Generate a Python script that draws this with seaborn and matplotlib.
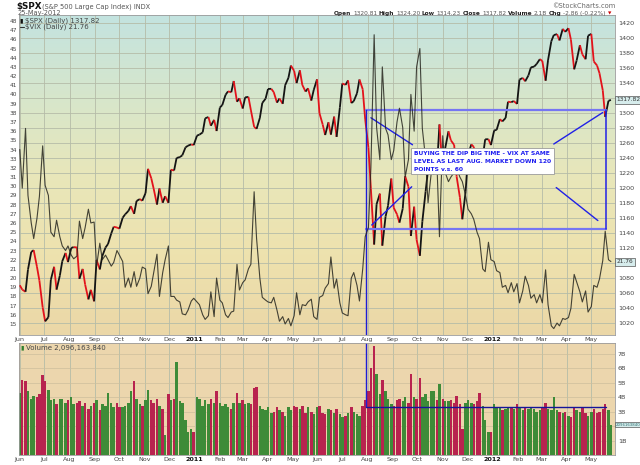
import numpy as np
import pandas as pd
import matplotlib
matplotlib.use('Agg')
import matplotlib.pyplot as plt
import matplotlib.dates as mdates
import matplotlib.transforms as mtrans
from matplotlib.collections import LineCollection
from matplotlib.colors import LinearSegmentedColormap
from matplotlib.lines import Line2D
import seaborn as sns

# readings taken twice a week (Tue / Fri), 01-Jun-2010 .. 25-May-2012
tue = pd.date_range('2010-06-01', '2012-05-22', freq='W-TUE')
fri = pd.date_range('2010-06-04', '2012-05-25', freq='W-FRI')
dates = tue.append(fri).sort_values()

spx_2010 = [
    1070.7, 1064.9, 1062.0, 1091.6, 1115.2, 1117.5, 1095.3, 1076.8, 1041.2, 1022.6,  # Jun
    1028.1, 1078.0, 1095.3, 1064.9, 1083.5, 1102.7, 1113.8, 1101.6,  # Jul
    1120.5, 1121.6, 1121.1, 1079.3, 1092.5, 1071.7, 1051.9, 1064.6,  # Aug
    1049.3, 1104.5, 1091.8, 1109.6, 1121.1, 1125.6, 1139.8, 1148.7, 1147.7, 1146.2,  # Sep
    1160.8, 1165.2, 1169.8, 1176.2, 1165.9, 1183.1, 1185.6, 1183.3,  # Oct
    1193.6, 1225.9, 1213.4, 1199.2, 1178.3, 1199.7, 1180.7, 1189.4, 1180.6, 1224.7,  # Nov
    1223.8, 1240.4, 1241.6, 1243.9, 1254.6, 1256.8, 1258.5, 1257.6]  # Dec
spx_2011 = [
    1270.2, 1271.5, 1274.5, 1293.2, 1295.0, 1283.4, 1291.2, 1276.3,  # Jan
    1307.6, 1310.9, 1324.6, 1329.2, 1328.0, 1343.0, 1315.4, 1319.9,  # Feb
    1306.3, 1321.2, 1321.8, 1304.3, 1281.9, 1279.2, 1293.8, 1313.8, 1319.4, 1332.4,  # Mar
    1332.6, 1328.2, 1314.2, 1319.7, 1312.6, 1337.4, 1347.2, 1363.6,  # Apr
    1356.6, 1340.2, 1357.2, 1337.8, 1328.9, 1333.3, 1316.9, 1331.1, 1345.2, 1300.2,  # May
    1284.9, 1271.0, 1287.9, 1271.5, 1295.5, 1268.5, 1307.6, 1339.7,  # Jun
    1337.9, 1343.8, 1313.6, 1316.1, 1326.7, 1345.0, 1331.9, 1292.3,  # Jul
    1254.0, 1199.4, 1125.0, 1178.8, 1192.8, 1123.5, 1162.4, 1176.8, 1212.9, 1174.0,  # Aug
    1165.2, 1154.2, 1172.9, 1216.0, 1202.1, 1136.4, 1175.4, 1131.4,  # Sep
    1110.0, 1155.5, 1195.5, 1224.6, 1225.4, 1238.3, 1229.1, 1285.1,  # Oct
    1218.3, 1253.2, 1275.9, 1263.9, 1257.8, 1215.7, 1188.0, 1158.7, 1195.2, 1244.3,  # Nov
    1258.5, 1255.2, 1225.7, 1219.7, 1241.3, 1265.3, 1265.4, 1257.6]  # Dec
spx_2012 = [
    1277.1, 1277.8, 1292.1, 1289.1, 1293.7, 1315.4, 1314.7, 1316.3, 1312.4, 1344.9,  # Jan
    1347.1, 1342.6, 1350.5, 1361.2, 1362.2, 1365.7, 1372.2, 1369.6,  # Feb
    1343.4, 1370.9, 1396.0, 1404.2, 1405.5, 1397.1, 1412.5, 1408.5,  # Mar
    1413.4, 1398.1, 1358.6, 1370.3, 1390.8, 1378.5, 1372.0, 1403.4,  # Apr
    1405.8, 1369.1, 1363.7, 1353.4, 1330.7, 1295.2, 1316.6, 1317.8]  # May

vix_2010 = [
    34.0, 29.8, 36.3, 29.0, 26.0, 24.3, 26.5, 28.9, 34.4, 30.1,
    29.0, 25.0, 24.5, 26.3, 24.5, 23.5, 23.0, 23.5,
    22.5, 22.1, 22.4, 26.2, 24.3, 25.5, 27.5, 26.0,
    26.1, 21.3, 23.8, 22.0, 22.5, 22.0, 21.3, 21.7, 23.0, 22.5,
    21.8, 19.0, 20.0, 19.0, 20.7, 19.1, 20.0, 21.2,
    21.0, 18.3, 19.1, 20.6, 22.6, 18.0, 20.6, 22.0, 23.5, 18.0,
    18.0, 17.6, 17.4, 16.1, 16.0, 16.5, 17.5, 17.8]
vix_2011 = [
    17.4, 17.1, 16.0, 15.5, 15.9, 18.5, 15.8, 20.0,
    17.6, 17.3, 16.0, 15.7, 16.3, 16.4, 21.5, 18.7,
    19.5, 19.8, 21.0, 21.5, 29.4, 24.3, 20.0, 17.9, 17.6, 17.4,
    17.3, 17.9, 16.5, 15.3, 15.8, 15.0, 15.6, 14.8,
    15.9, 18.4, 16.0, 17.1, 17.0, 17.4, 17.7, 15.8, 15.5, 17.9,
    18.1, 18.9, 19.4, 22.3, 18.9, 19.9, 17.3, 16.2,
    16.0, 15.9, 20.0, 20.6, 19.2, 17.5, 21.0, 24.5,
    25.5, 32.0, 46.5, 36.4, 32.9, 43.0, 36.3, 35.6, 32.9, 33.9,
    37.0, 38.5, 36.4, 31.0, 32.9, 40.0, 36.0, 43.0,
    45.0, 36.3, 33.0, 28.2, 31.5, 31.3, 32.2, 24.5,
    35.5, 31.5, 30.5, 31.0, 31.5, 32.0, 31.0, 30.5, 29.0, 27.5,
    27.0, 26.4, 25.0, 24.3, 21.0, 20.7, 23.9, 22.0]
vix_2012 = [
    21.8, 20.8, 20.6, 19.0, 19.2, 18.4, 19.5, 18.5, 19.4, 17.3,
    18.6, 20.2, 19.2, 17.8, 18.2, 17.3, 18.2, 17.3,
    20.9, 17.1, 14.8, 14.5, 15.1, 14.8, 15.6, 15.5,
    15.7, 16.7, 20.4, 19.6, 18.5, 17.4, 18.6, 16.3,
    16.9, 19.2, 19.0, 19.9, 21.9, 25.1, 22.0, 21.8]

# volume in billions of shares
vol_2010 = [
    4.3, 5.2, 5.1, 4.4, 3.9, 4.1, 4.0, 4.2, 5.5, 5.1,
    4.5, 3.8, 3.9, 3.5, 3.9, 3.9, 3.6, 3.8,
    4.0, 3.5, 3.6, 3.7, 3.4, 3.6, 3.2, 3.4,
    3.6, 3.8, 3.1, 3.5, 3.4, 4.3, 3.6, 3.3, 3.6, 3.3,
    3.3, 3.4, 3.6, 4.4, 5.1, 3.9, 3.5, 3.4,
    3.8, 4.5, 3.8, 3.6, 3.9, 3.4, 3.2, 1.4, 4.2, 3.8,
    3.9, 6.4, 3.7, 3.6, 2.4, 1.6, 1.8, 1.6]
vol_2011 = [
    4.0, 3.9, 3.4, 3.8, 3.5, 3.9, 3.6, 4.4,
    3.6, 3.4, 3.5, 3.3, 3.2, 3.6, 4.3, 3.6,
    3.8, 3.5, 3.6, 3.5, 4.6, 4.7, 3.4, 3.2, 3.1, 3.3,
    2.9, 3.0, 3.3, 3.1, 3.0, 2.7, 3.3, 3.1,
    3.4, 3.3, 3.2, 3.4, 2.9, 3.3, 3.0, 2.8, 3.3, 3.4,
    2.9, 2.8, 3.2, 3.1, 2.9, 3.2, 2.8, 2.6,
    2.7, 2.9, 3.3, 3.0, 2.8, 2.7, 3.4, 3.8,
    4.4, 6.0, 7.5, 5.6, 4.2, 5.2, 4.4, 3.9, 3.5, 3.4,
    3.8, 3.9, 3.7, 4.0, 3.6, 5.6, 4.0, 3.9,
    5.3, 4.0, 4.2, 3.7, 4.4, 4.4, 3.8, 4.9,
    3.9, 3.7, 3.7, 3.8, 3.6, 4.1, 3.5, 1.8, 3.6, 3.8,
    3.6, 3.5, 3.7, 4.3, 3.4, 2.4, 1.6, 1.6]
vol_2012 = [
    3.5, 3.3, 3.3, 3.1, 3.2, 3.3, 3.3, 3.2, 3.5, 3.3,
    3.1, 3.3, 3.2, 3.3, 3.2, 3.0, 3.1, 3.3,
    3.6, 3.2, 3.1, 4.0, 3.1, 3.0, 2.9, 3.0,
    2.7, 2.6, 3.3, 3.1, 3.0, 3.3, 2.9, 2.7,
    3.0, 3.2, 2.9, 3.0, 3.2, 3.5, 3.1, 2.1]

df = pd.DataFrame({'date': dates,
                   'spx': spx_2010 + spx_2011 + spx_2012,
                   'vix': vix_2010 + vix_2011 + vix_2012,
                   'vol': vol_2010 + vol_2011 + vol_2012})
df['x'] = mdates.date2num(df['date'])
df['up'] = df['spx'].diff().fillna(1) >= 0

month_starts = pd.date_range('2010-06-01', '2012-05-01', freq='MS')
month_labels = [str(m.year) if m.month == 1 else m.strftime('%b') for m in month_starts]
spx_ticks = list(range(1020, 1421, 20))
vix_ticks = list(range(15, 49))
vol_ticks = [1, 2, 3, 4, 5, 6, 7]

note = ('BUYING THE DIP BIG TIME - VIX AT SAME\n'
        'LEVEL AS LAST AUG. MARKET DOWN 120\n'
        'POINTS v.s. 60')

sns.set_theme(style='white')
plt.rcParams['font.family'] = ['DejaVu Sans']

W, H = 640, 465
def fx(px):
    return px / W
def fy(py):
    return 1 - py / H
def dn(s):
    return mdates.date2num(pd.Timestamp(s))

fig = plt.figure(figsize=(6.4, 4.65), dpi=100)
fig.patch.set_facecolor('white')
L, R = 19, 615
main_rect = [fx(L), fy(335), (R - L) / W, (335 - 15) / H]
vol_rect = [fx(L), fy(455), (R - L) / W, (455 - 343) / H]

# gradient background of the price panel
bg = fig.add_axes(main_rect, zorder=0)
bg_cmap = LinearSegmentedColormap.from_list(
    'bg', ['#c3e3e0', '#d6e6cc', '#e8e7ba', '#eee2ae', '#ebd7a7'])
bg.imshow(np.linspace(0, 1, 256).reshape(-1, 1), aspect='auto',
          cmap=bg_cmap, extent=[0, 1, 0, 1])
bg.axis('off')

ax = fig.add_axes(main_rect, zorder=1)
ax.patch.set_visible(False)
ax2 = ax.twinx()
ax2.set_zorder(2)
ax2.patch.set_visible(False)
vax = fig.add_axes(vol_rect)
vax.set_facecolor('#ecd6ad')

x0, x1 = dn('2010-05-31'), dn('2012-05-30')

# S&P 500: black when rising, red when falling
pts = df[['x', 'spx']].to_numpy()
segs = np.stack([pts[:-1], pts[1:]], axis=1)
seg_cols = np.where(df['up'].to_numpy()[1:], '#141414', '#e3121b')
ax.add_collection(LineCollection(segs, colors=seg_cols, linewidths=1.3, zorder=3))

# VIX
sns.lineplot(data=df, x='x', y='vix', ax=ax2, color='#26261f', lw=0.8, alpha=0.85)

# volume
bar_cols = np.where(df['up'], '#3e8b38', '#b8234f')
vax.bar(df['x'], df['vol'], width=3.0, color=bar_cols, linewidth=0)

for a in (ax, vax):
    a.set_xlim(x0, x1)
    a.set_xticks(mdates.date2num(month_starts))
    a.set_xticklabels(month_labels)
    a.tick_params(axis='x', length=0, pad=1.5, labelsize=4.6, colors='#444444')
    for lab in a.get_xticklabels():
        if lab.get_text().isdigit():
            lab.set_fontweight('bold')
            lab.set_color('#111111')
    a.grid(True, axis='x', color='#b5bca8', lw=0.6)
    for sp in a.spines.values():
        sp.set_color('#9a9a9a')
        sp.set_linewidth(0.6)

# tick labels hidden under the last-value tags are left blank
ax.set_ylim(1004.4, 1431)
ax.yaxis.tick_right()
ax.set_yticks(spx_ticks)
ax.set_yticklabels(['' if t in (1100, 1320) else str(t) for t in spx_ticks])
ax.tick_params(axis='y', length=0, pad=2, labelsize=4.6, colors='#444444')
ax.grid(True, axis='y', color='#b5bca8', lw=0.6)

ax2.set_ylim(13.8, 48.65)
ax2.yaxis.tick_left()
ax2.set_yticks(vix_ticks)
ax2.tick_params(axis='y', length=0, pad=1.5, labelsize=4.2, colors='#444444')
ax2.set_xlabel('')
ax2.set_ylabel('')
ax2.grid(False)
for sp in ax2.spines.values():
    sp.set_visible(False)

vax.set_ylim(0, 7.74)
vax.yaxis.tick_right()
vax.set_yticks(vol_ticks)
vax.set_yticklabels(['' if v == 2 else f'{v}B' for v in vol_ticks])
vax.tick_params(axis='y', length=0, pad=2, labelsize=4.6, colors='#444444')
vax.grid(True, axis='y', color='#cdbf9c', lw=0.5)

# hand-drawn annotation
box_l, box_r = dn('2011-07-30'), dn('2012-05-19')
box_top, box_bot = 1305, 1146
ax.plot([box_l, box_r], [box_top, box_top], color='#7676f2', lw=1.6, zorder=5)
ax.plot([box_l, box_r], [box_bot, box_bot], color='#7676f2', lw=1.6, zorder=5)
ax.plot([box_l, box_l], [1004.4, box_top], color='#1d1dd6', lw=1.0, zorder=5)
ax.plot([box_r, box_r], [box_bot, box_top], color='#2222e6', lw=1.1, zorder=5)
diagonals = [(('2011-08-05', 1294), ('2011-09-25', 1258)),
             (('2011-08-06', 1151), ('2011-09-24', 1202)),
             (('2012-03-16', 1259), ('2012-05-15', 1301)),
             (('2012-03-19', 1201), ('2012-05-09', 1157))]
for (da, va), (db, vb) in diagonals:
    ax.plot([dn(da), dn(db)], [va, vb], color='#2020e6', lw=1.0, zorder=5)
ax2.text(dn('2011-09-27'), 1250, note, transform=ax.transData, ha='left', va='top',
         fontsize=4.3, color='#1e1ef0', weight='bold', linespacing=1.75, zorder=10,
         bbox=dict(boxstyle='square,pad=0.45', fc='white', ec='#9a9a9a', lw=0.6))
vax.plot([box_l, box_l], [3.3, 7.74], color='#1d1dd6', lw=1.0)
vax.plot([box_l, box_r], [3.3, 3.3], color='#15159a', lw=1.0)

# last-value tags on the right
tag = dict(boxstyle='square,pad=0.25', fc='#d6ecec', ec='#555555', lw=0.5)
ax.text(1.003, 1317.82, '1317.82', transform=mtrans.blended_transform_factory(ax.transAxes, ax.transData),
        ha='left', va='center', fontsize=4.2, color='#333333', bbox=tag, zorder=10)
ax2.text(1.003, 21.76, '21.76', transform=mtrans.blended_transform_factory(ax2.transAxes, ax2.transData),
         ha='left', va='center', fontsize=4.2, color='#333333', bbox=tag, zorder=10)
vax.text(1.002, 2.096, '2096163840', transform=mtrans.blended_transform_factory(vax.transAxes, vax.transData),
         ha='left', va='center', fontsize=2.8, color='#2c6f6f',
         bbox=dict(boxstyle='square,pad=0.2', fc='#d6ecec', ec='#555555', lw=0.5), zorder=10)

# legends inside the panels
fig.text(fx(19.5), fy(20.5), '▮', fontsize=4.5, color='#111111', va='center')
fig.text(fx(25), fy(20.5), '$SPX (Daily) 1317.82', fontsize=5, color='#444444', va='center')
fig.add_artist(Line2D([fx(20), fx(24)], [fy(27), fy(27)], transform=fig.transFigure,
                      color='#333333', lw=0.8))
fig.text(fx(25), fy(27), '$VIX (Daily) 21.76', fontsize=5, color='#444444', va='center')
fig.text(fx(20.5), fy(347.5), '▮', fontsize=4.5, color='#2f7f2f', va='center')
fig.text(fx(26), fy(347.5), 'Volume 2,096,163,840', fontsize=5, color='#444444', va='center')

# header
fig.text(fx(16), fy(6.5), '$SPX', fontsize=6.3, weight='bold', color='#111111', va='center')
fig.text(fx(42), fy(6.5), '(S&P 500 Large Cap Index) INDX', fontsize=4.8, color='#555555', va='center')
fig.text(fx(18), fy(13.5), '25-May-2012', fontsize=4.8, color='#555555', va='center')
fig.text(fx(615), fy(5.5), '©StockCharts.com', fontsize=4.8, color='#666666', ha='right', va='center')

quote = [('Open', 'bold', '#222222'), ('1320.81', 'normal', '#555555'),
         ('High', 'bold', '#222222'), ('1324.20', 'normal', '#555555'),
         ('Low', 'bold', '#222222'), ('1314.23', 'normal', '#555555'),
         ('Close', 'bold', '#222222'), ('1317.82', 'normal', '#555555'),
         ('Volume', 'bold', '#222222'), ('2.1B', 'normal', '#555555'),
         ('Chg', 'bold', '#222222'), ('-2.86 (-0.22%)', 'normal', '#555555')]
prev = fig.text(fx(334), fy(13.5), quote[0][0], fontsize=4.2, weight=quote[0][1],
                color=quote[0][2], va='center')
for s, w, c in quote[1:]:
    prev = ax.annotate(s, xy=(1, 0.5), xycoords=prev, xytext=(1.2, 0), textcoords='offset points',
                       va='center', ha='left', fontsize=4.2, weight=w, color=c, annotation_clip=False)
ax.annotate('▼', xy=(1, 0.5), xycoords=prev, xytext=(1.5, 0), textcoords='offset points',
            va='center', ha='left', fontsize=3.2, color='#cc0000', annotation_clip=False)

fig.savefig('out.png', dpi=100)
